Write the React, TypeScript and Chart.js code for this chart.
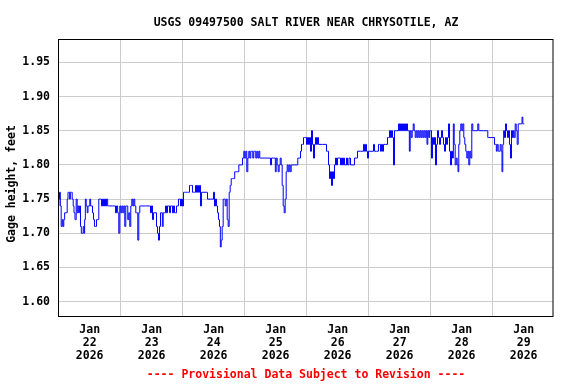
import React, { useEffect, useRef } from "react";
import { Chart, registerables } from "chart.js";

Chart.register(...registerables);

const TITLE = "USGS 09497500 SALT RIVER NEAR CHRYSOTILE, AZ";
const Y_TITLE = "Gage height, feet";
const FOOTER = "---- Provisional Data Subject to Revision ----";
const MONTH = "Jan";
const YEAR = "2026";
const DAY_LABELS = ["22", "23", "24", "25", "26", "27", "28", "29"];
const NOON_HOURS = [12, 36, 60, 84, 108, 132, 156, 180];
const MIDNIGHT_HOURS = [24, 48, 72, 96, 120, 144, 168];
const Y_TICKS = [1.6, 1.65, 1.7, 1.75, 1.8, 1.85, 1.9, 1.95];

// hours since 2026-01-22 00:00
const hours = [
  0, 0.12, 0.5, 0.77, 1.16, 1.55, 1.78, 2.17, 2.44, 3.1, 3.48, 3.72, 4.1, 4.37, 4.65, 5.03, 5.42, 5.81, 6.04, 6.58,
  6.97, 7.35, 7.59, 7.97, 8.25, 8.63, 8.9, 9.29, 9.68, 9.91, 10.18, 10.45, 10.84, 11.23, 11.46, 11.85, 12.23, 12.5, 12.89, 13.28,
  13.66, 14.05, 14.44, 14.83, 15.33, 15.72, 16.1, 16.37, 16.76, 17.15, 17.54, 17.92, 18.31, 18.7, 19.2, 19.86, 21.79, 22.18, 22.57, 23.07,
  23.46, 23.85, 24.23, 24.62, 25.01, 25.39, 25.78, 26.17, 26.56, 26.94, 27.33, 27.72, 28.1, 28.49, 28.88, 29.26, 29.65, 30.04, 30.43, 30.81,
  31.2, 31.59, 32.13, 35.07, 35.34, 35.73, 36.12, 36.5, 36.89, 37.66, 38.05, 38.44, 38.83, 39.21, 39.6, 39.99, 40.26, 40.65, 41.15, 41.54,
  41.92, 42.31, 42.7, 43.08, 43.47, 43.86, 44.25, 44.63, 45.02, 45.41, 45.79, 46.18, 46.57, 46.96, 47.34, 47.73, 48.12, 48.5, 48.89, 49.28,
  49.66, 50.05, 50.44, 50.83, 51.21, 51.6, 51.99, 52.37, 52.76, 53.15, 53.54, 53.92, 54.31, 54.7, 55.08, 55.47, 57.02, 57.41, 57.79, 59.73,
  60.12, 60.5, 60.89, 61.28, 61.67, 62.05, 62.44, 62.71, 63.1, 63.48, 63.87, 64.26, 64.65, 65.03, 65.42, 65.81, 66.19, 66.58, 66.97, 67.74,
  68.52, 69.29, 70.18, 70.84, 71.46, 71.85, 72.23, 72.62, 73.01, 73.4, 73.78, 74.17, 74.56, 74.94, 75.33, 75.72, 76.1, 76.49, 76.88, 77.27,
  77.65, 78.04, 81.79, 82.18, 82.57, 83.73, 84.0, 84.39, 84.77, 85.16, 85.55, 85.94, 86.32, 86.71, 87.1, 87.48, 87.87, 88.26, 88.65, 89.03,
  89.42, 89.81, 90.19, 92.36, 92.75, 93.41, 93.8, 94.18, 94.57, 94.96, 95.35, 95.73, 96.12, 96.51, 96.89, 97.28, 97.67, 98.06, 98.44, 98.83,
  99.22, 99.6, 99.99, 100.38, 100.77, 103.47, 103.86, 104.25, 104.64, 105.02, 105.41, 105.8, 106.18, 106.57, 106.96, 107.35, 107.73, 108.12, 108.89, 109.28,
  109.67, 110.06, 110.44, 110.83, 111.22, 111.6, 111.99, 112.77, 113.15, 114.31, 114.7, 115.47, 115.86, 117.8, 118.19, 118.57, 118.96, 119.35, 119.73, 120.12,
  121.67, 122.06, 122.44, 123.6, 123.99, 124.38, 124.76, 125.15, 125.54, 125.93, 127.09, 127.47, 127.86, 128.25, 128.64, 129.02, 129.41, 129.8, 130.18, 131.35,
  131.73, 132.12, 132.51, 132.89, 133.28, 133.67, 134.06, 134.44, 134.83, 135.22, 135.6, 135.88, 136.26, 136.65, 137.04, 137.43, 137.81, 138.2, 138.59, 138.97,
  139.36, 139.75, 140.13, 140.52, 140.91, 141.3, 141.68, 142.07, 142.46, 142.69, 143.08, 143.46, 143.73, 144.12, 144.51, 144.89, 145.28, 145.67, 146.06, 146.44,
  146.83, 147.22, 147.6, 147.99, 148.38, 148.77, 149.15, 149.54, 149.93, 150.31, 150.7, 151.09, 151.48, 151.86, 152.25, 152.64, 152.91, 153.29, 153.68, 154.07,
  154.46, 154.69, 155.07, 155.46, 155.85, 156.24, 156.62, 157.01, 157.4, 157.78, 158.17, 158.56, 158.94, 159.33, 159.72, 160.11, 160.49, 162.04, 162.43, 162.82,
  165.91, 166.3, 168.51, 168.89, 169.28, 169.55, 169.94, 170.33, 170.71, 171.1, 171.49, 171.72, 172.11, 172.38, 172.77, 173.15, 173.54, 173.93, 174.31, 174.7,
  175.09, 175.48, 175.86, 176.13, 176.52, 176.91, 177.3, 177.68, 178.07, 179.23, 179.47, 179.86, 180.24,
];

const gage = [
  1.74, 1.75, 1.76, 1.74, 1.71, 1.72, 1.71, 1.72, 1.73, 1.73, 1.75, 1.76, 1.76, 1.75, 1.76, 1.76, 1.75, 1.74, 1.73, 1.72,
  1.75, 1.73, 1.74, 1.73, 1.74, 1.71, 1.7, 1.7, 1.71, 1.7, 1.72, 1.75, 1.74, 1.73, 1.74, 1.74, 1.75, 1.74, 1.74, 1.73,
  1.72, 1.71, 1.71, 1.72, 1.72, 1.75, 1.75, 1.75, 1.74, 1.75, 1.74, 1.75, 1.74, 1.75, 1.74, 1.74, 1.74, 1.73, 1.74, 1.73,
  1.7, 1.74, 1.73, 1.74, 1.73, 1.74, 1.71, 1.74, 1.74, 1.72, 1.73, 1.71, 1.74, 1.75, 1.74, 1.75, 1.74, 1.73, 1.73, 1.69,
  1.73, 1.74, 1.74, 1.74, 1.74, 1.73, 1.74, 1.72, 1.73, 1.73, 1.71, 1.7, 1.69, 1.71, 1.73, 1.73, 1.71, 1.73, 1.73, 1.74,
  1.73, 1.74, 1.74, 1.73, 1.74, 1.74, 1.73, 1.74, 1.73, 1.73, 1.74, 1.74, 1.75, 1.75, 1.74, 1.75, 1.74, 1.76, 1.76, 1.76,
  1.76, 1.76, 1.76, 1.77, 1.77, 1.77, 1.76, 1.76, 1.76, 1.77, 1.76, 1.77, 1.76, 1.77, 1.74, 1.76, 1.76, 1.76, 1.75, 1.75,
  1.76, 1.74, 1.75, 1.74, 1.73, 1.72, 1.71, 1.68, 1.69, 1.71, 1.75, 1.75, 1.74, 1.75, 1.72, 1.71, 1.76, 1.77, 1.78, 1.78,
  1.79, 1.79, 1.8, 1.8, 1.81, 1.82, 1.81, 1.82, 1.79, 1.81, 1.82, 1.81, 1.82, 1.82, 1.81, 1.82, 1.82, 1.81, 1.82, 1.81,
  1.82, 1.81, 1.81, 1.8, 1.81, 1.81, 1.79, 1.81, 1.8, 1.79, 1.8, 1.81, 1.8, 1.77, 1.74, 1.73, 1.75, 1.79, 1.8, 1.79,
  1.8, 1.79, 1.8, 1.8, 1.81, 1.81, 1.82, 1.83, 1.83, 1.84, 1.84, 1.84, 1.83, 1.84, 1.83, 1.84, 1.82, 1.85, 1.83, 1.81,
  1.83, 1.84, 1.83, 1.84, 1.83, 1.83, 1.82, 1.82, 1.8, 1.78, 1.79, 1.77, 1.79, 1.78, 1.8, 1.81, 1.8, 1.81, 1.81, 1.8,
  1.81, 1.8, 1.81, 1.8, 1.8, 1.81, 1.8, 1.81, 1.8, 1.8, 1.81, 1.81, 1.82, 1.82, 1.83, 1.82, 1.83, 1.82, 1.81, 1.82,
  1.82, 1.83, 1.82, 1.82, 1.83, 1.83, 1.82, 1.83, 1.82, 1.83, 1.83, 1.84, 1.84, 1.85, 1.84, 1.85, 1.84, 1.8, 1.85, 1.85,
  1.86, 1.85, 1.86, 1.85, 1.86, 1.85, 1.86, 1.85, 1.86, 1.85, 1.85, 1.82, 1.85, 1.84, 1.85, 1.86, 1.85, 1.84, 1.85, 1.84,
  1.85, 1.84, 1.85, 1.84, 1.85, 1.84, 1.85, 1.84, 1.85, 1.83, 1.85, 1.84, 1.85, 1.85, 1.81, 1.84, 1.83, 1.84, 1.8, 1.83,
  1.85, 1.84, 1.83, 1.84, 1.85, 1.84, 1.83, 1.82, 1.84, 1.83, 1.84, 1.86, 1.82, 1.8, 1.82, 1.81, 1.86, 1.83, 1.8, 1.81,
  1.8, 1.79, 1.83, 1.85, 1.86, 1.85, 1.86, 1.84, 1.83, 1.82, 1.81, 1.82, 1.8, 1.82, 1.81, 1.86, 1.85, 1.85, 1.86, 1.85,
  1.85, 1.84, 1.84, 1.83, 1.83, 1.82, 1.83, 1.82, 1.82, 1.83, 1.82, 1.79, 1.83, 1.85, 1.84, 1.86, 1.85, 1.84, 1.85, 1.83,
  1.81, 1.85, 1.84, 1.85, 1.84, 1.86, 1.85, 1.83, 1.86, 1.86, 1.87, 1.86, 1.86,
];

const FONT_FAMILY = '"DejaVu Sans Mono", monospace';

const decorPlugin = {
  id: "decor",
  afterDraw(chart: any) {
    const { ctx, chartArea } = chart;
    const cx = (chartArea.left + chartArea.right) / 2;
    ctx.save();
    // plot box
    ctx.strokeStyle = "#000000";
    ctx.lineWidth = 1;
    ctx.strokeRect(chartArea.left - 0.5, chartArea.top + 0.5, chartArea.right - chartArea.left + 0.5, chartArea.bottom - chartArea.top);
    // title
    ctx.fillStyle = "#000000";
    ctx.font = `bold 11.5px ${FONT_FAMILY}`;
    ctx.textAlign = "center";
    ctx.textBaseline = "middle";
    ctx.fillText(TITLE, cx, 22.7);
    // footer
    ctx.fillStyle = "#ff0000";
    ctx.fillText(FOOTER, cx, 375.5);
    // y title
    ctx.fillStyle = "#000000";
    ctx.translate(12, 184);
    ctx.rotate(-Math.PI / 2);
    ctx.fillText(Y_TITLE, 0, 0);
    ctx.restore();
  },
};

export default function App() {
  const ref = useRef<HTMLCanvasElement | null>(null);

  useEffect(() => {
    document.body.style.margin = "0";
    const canvas = ref.current;
    if (!canvas) return;
    const points = hours.map((h, i) => ({ x: h, y: gage[i] }));
    const tickFont = { family: FONT_FAMILY, size: 11.5, weight: "bold" as const, lineHeight: 1.1 };
    const chart = new Chart(canvas, {
      type: "line",
      data: {
        datasets: [
          {
            data: points,
            borderColor: "#0000ff",
            borderWidth: 1,
            pointRadius: 0,
            fill: false,
            stepped: "middle",
          },
        ],
      },
      options: {
        animation: false,
        responsive: false,
        devicePixelRatio: 1,
        layout: { padding: { left: 0, top: 39, right: 23, bottom: 0 } },
        plugins: { legend: { display: false }, tooltip: { enabled: false }, title: { display: false } },
        scales: {
          x: {
            type: "linear",
            min: 0.12,
            max: 191.35,
            afterBuildTicks: (scale: any) => {
              scale.ticks = [...NOON_HOURS, ...MIDNIGHT_HOURS].sort((a, b) => a - b).map((v) => ({ value: v }));
            },
            afterFit: (scale: any) => {
              scale.height = 68;
            },
            border: { display: false },
            grid: {
              drawTicks: false,
              color: (c: any) => (c.tick && MIDNIGHT_HOURS.includes(c.tick.value) ? "#cccccc" : "rgba(0,0,0,0)"),
              lineWidth: 1,
            },
            ticks: {
              autoSkip: false,
              maxRotation: 0,
              minRotation: 0,
              padding: 8,
              color: "#000000",
              font: tickFont,
              callback: (value: any) => {
                const idx = NOON_HOURS.indexOf(Number(value));
                return idx >= 0 ? [MONTH, DAY_LABELS[idx], YEAR] : "";
              },
            },
          },
          y: {
            type: "linear",
            min: 1.5791,
            max: 1.9841,
            afterBuildTicks: (scale: any) => {
              scale.ticks = Y_TICKS.map((v) => ({ value: v }));
            },
            afterFit: (scale: any) => {
              scale.width = 59;
            },
            border: { display: false },
            grid: { drawTicks: false, color: "#cccccc", lineWidth: 1 },
            ticks: {
              padding: 9,
              color: "#000000",
              font: tickFont,
              callback: (value: any) => Number(value).toFixed(2),
            },
          },
        },
      },
      plugins: [decorPlugin],
    });
    return () => chart.destroy();
  }, []);

  return <canvas ref={ref} width={576} height={384} style={{ display: "block" }} />;
}
